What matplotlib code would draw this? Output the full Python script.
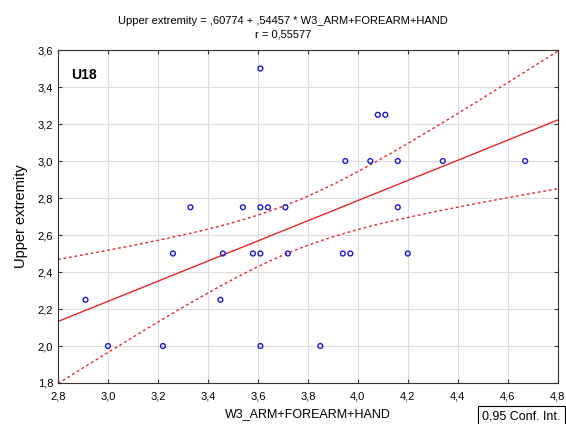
"""U18 scatter: upper extremity vs W3_ARM+FOREARM+HAND with linear fit and 95% band"""
import numpy as np
import matplotlib
matplotlib.use("Agg")
import matplotlib.pyplot as plt
from matplotlib.ticker import FuncFormatter

plt.rcParams['font.family'] = ['Liberation Sans', 'DejaVu Sans']

# data
arm = [2.91, 3.00, 3.22, 3.26, 3.45, 3.46, 3.58, 3.61, 3.61, 3.72,
       3.61, 3.33, 3.54, 3.61, 3.64, 3.71,
       4.08, 4.11, 3.95, 4.05, 4.16, 4.34, 4.67, 4.16,
       3.94, 3.97, 4.20, 3.85]
upper = [2.25, 2.00, 2.00, 2.50, 2.25, 2.50, 2.50, 2.50, 2.00, 2.50,
         3.50, 2.75, 2.75, 2.75, 2.75, 2.75,
         3.25, 3.25, 3.00, 3.00, 3.00, 3.00, 3.00, 2.75,
         2.50, 2.50, 2.50, 2.00]
# coefficients as printed in the reference title
intercept = 0.60774
slope = 0.54457
r_value = 0.55577

x = np.array(arm)
y = np.array(upper)
n = len(x)

# 95% confidence band of the mean prediction
xs = np.linspace(2.8, 4.8, 200)
fit = intercept + slope * xs
resid = y - (intercept + slope * x)
s = np.sqrt(np.sum(resid**2) / (n - 2))
sxx = np.sum((x - x.mean())**2)
t = 2.056
half = t * s * np.sqrt(1.0 / n + (xs - x.mean())**2 / sxx)

fig = plt.figure(figsize=(5.66, 4.24), dpi=100)
ax = fig.add_axes([0.1025, 0.0967, 0.8828, 0.7853])

ax.plot(xs, fit, color='#e8262a', lw=1.0)
ax.plot(xs, fit + half, color='#e8262a', lw=1.0, ls=(0, (2, 2)))
ax.plot(xs, fit - half, color='#e8262a', lw=1.0, ls=(0, (2, 2)))
ax.scatter(x, y, s=12, facecolors='none', edgecolors='#1a1ad0', linewidths=1.0, zorder=3)

ax.set_xlim(2.8, 4.8)
ax.set_ylim(1.8, 3.6)
ax.set_xticks(np.arange(2.8, 4.81, 0.2))
ax.set_yticks(np.arange(1.8, 3.61, 0.2))
comma = FuncFormatter(lambda v, p: ('%.1f' % v).replace('.', ','))
ax.xaxis.set_major_formatter(comma)
ax.yaxis.set_major_formatter(comma)
ax.grid(True, color='#dcdcdc', lw=0.8)
ax.set_axisbelow(True)
ax.tick_params(direction='in', length=3, top=True, right=True, labelsize=8, color='#333333')
ax.tick_params(axis='x', pad=6)
for sp in ax.spines.values():
    sp.set_color('#333333')
    sp.set_linewidth(0.8)

ax.set_xlabel('W3_ARM+FOREARM+HAND', fontsize=9, labelpad=5)
ax.set_ylabel('Upper extremity', fontsize=10.5, labelpad=7)
ax.text(0.027, 0.945, 'U18', transform=ax.transAxes, fontsize=10, fontweight='bold', va='top')

fig.text(0.5, 0.9505, 'Upper extremity = ,%s + ,%s * W3_ARM+FOREARM+HAND'
         % (str(intercept)[2:], str(slope)[2:]), ha='center', va='center', fontsize=8)
fig.text(0.5, 0.9175, 'r = ' + str(r_value).replace('.', ','), ha='center', va='center', fontsize=8)

fig.text(0.852, 0.018, '0,95 Conf. Int.', fontsize=9, va='center',
         bbox=dict(boxstyle='square,pad=0.35', fc='white', ec='black', lw=0.8))

fig.savefig('out.png', dpi=100)
